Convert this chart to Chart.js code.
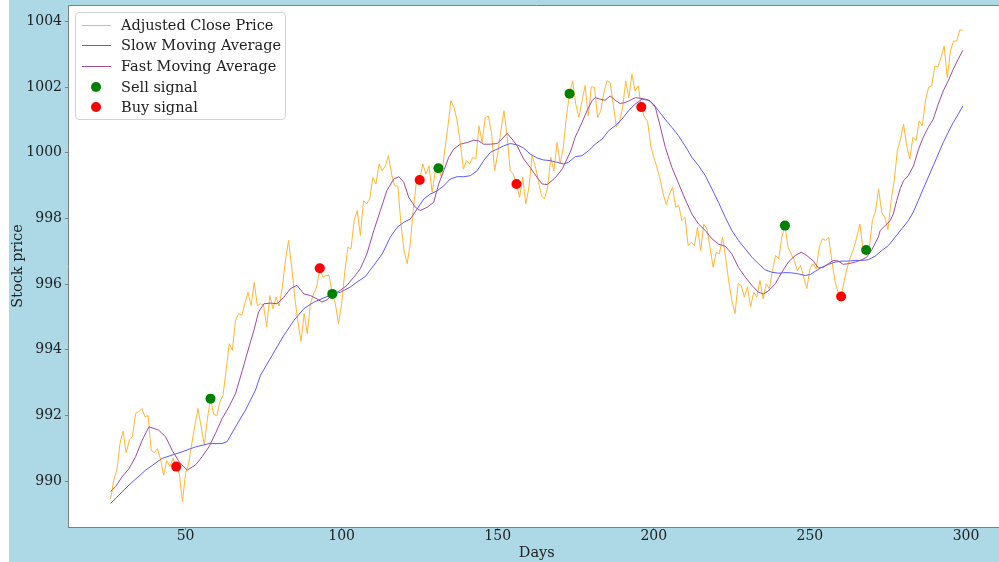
<!DOCTYPE html>
<html>
<head>
<meta charset="utf-8">
<script src="https://cdn.jsdelivr.net/npm/chart.js@4/dist/chart.umd.min.js"></script>
<style>
  html, body { margin:0; padding:0; background:#ffffff; overflow:hidden; width:999px; height:562px; }
  #bg { position:absolute; left:9px; top:0; width:990px; height:562px; background:#add8e6; }
  #wrap { position:absolute; left:0; top:0; width:1012px; height:562px; }
  #legend { position:absolute; left:75px; top:12px; width:211px; height:108px; border:1px solid #d4d4d4;
            border-radius:4px; background:rgba(255,255,255,0.85); box-sizing:border-box; }
  .lrow { position:absolute; left:0; height:20px; width:100%; }
  .ltext { position:absolute; left:45px; top:0; line-height:20px; font-family:'DejaVu Serif'; font-size:14.5px; color:#222; white-space:nowrap; }
  .lline { position:absolute; left:6px; top:10px; width:29px; height:1px; }
  .ldot { position:absolute; left:15px; top:5px; width:10px; height:10px; border-radius:50%; }
</style>
</head>
<body>
<div id="bg"></div>
<div id="wrap"><canvas id="c" width="1012" height="562"></canvas></div>
<div id="legend"></div>
<script>
// ---------- data ----------
const firstDay = 26;
const adjClose = [
 989.47,990.03,990.33,991.14,991.52,990.86,991.25,991.35,992.06,992.11,
 992.21,991.96,991.99,990.94,990.86,990.99,990.66,990.18,990.62,990.44,
 990.69,990.44,990.23,989.37,990.23,990.54,991.14,991.70,992.21,991.65,
 991.09,991.90,992.51,992.04,991.99,992.41,992.61,993.37,994.18,993.98,
 994.89,995.10,995.05,995.40,995.75,995.35,996.05,995.34,995.40,995.35,
 994.69,995.65,995.25,995.60,995.33,995.90,996.72,997.33,996.52,995.60,
 994.84,994.25,995.10,994.49,995.40,995.70,995.91,996.48,996.21,996.26,
 996.26,995.70,995.40,994.79,995.40,996.36,997.12,997.07,997.93,998.24,
 997.48,998.54,998.44,998.59,999.25,999.05,999.66,999.45,999.60,999.91,
 999.35,998.99,998.99,997.83,997.02,996.62,997.25,998.30,999.15,999.17,
 999.66,999.35,999.60,998.79,999.45,999.53,999.25,1000.06,1000.77,1001.58,
 1001.38,1000.97,1000.31,999.50,999.76,999.66,999.86,999.81,1000.82,1000.31,
 1001.07,1001.12,1000.62,999.45,999.96,1000.67,1001.28,1000.52,999.45,999.35,
 999.05,998.64,999.25,998.44,998.95,999.91,999.60,999.15,998.69,998.59,
 998.95,999.86,999.45,1000.31,999.66,1000.16,1001.10,1001.80,1002.19,1001.48,
 1001.07,1001.58,1002.04,1001.12,1002.01,1001.99,1001.07,1001.28,1001.83,1002.19,
 1002.14,1001.48,1000.79,1000.92,1001.38,1002.19,1001.68,1002.39,1001.88,1002.04,
 1001.39,1001.07,1000.97,1000.21,999.86,999.55,999.20,998.74,998.42,998.74,
 998.95,998.34,998.39,997.93,998.03,997.17,997.27,997.17,997.73,997.02,
 997.83,997.68,997.12,996.51,996.97,996.92,997.43,996.82,996.08,995.50,
 995.10,996.01,995.96,995.60,995.91,995.30,995.75,995.60,996.11,995.55,
 996.01,995.86,996.41,996.87,996.77,997.43,997.78,997.12,996.92,996.72,
 996.41,996.57,996.21,995.86,996.46,996.62,996.46,997.12,997.38,997.33,
 997.43,996.72,996.11,995.75,995.62,996.11,996.52,996.82,997.07,997.43,
 997.83,997.07,997.04,997.07,997.93,998.22,998.90,998.18,998.03,997.66,
 998.54,999.15,1000.06,1000.41,1000.87,1000.21,999.81,1000.47,1000.37,1000.97,
 1000.82,1001.58,1001.99,1002.04,1002.64,1002.61,1002.90,1003.25,1002.29,1003.10,
 1003.40,1003.40,1003.74,1003.73
];

const slowDays = [26,31.9,37.2,42.5,48.9,53.2,57.5,61.7,63.3,66,69.2,72.4,74,78.8,81.5,84.7,87.9,91.1,94.3,97,
 99.6,102.8,104.9,107.6,110.3,113,115.6,117.8,119.9,122,124.2,126.3,128.4,130.6,132.7,134.8,137,139.1,141.2,143.4,
 145.5,147.6,149.8,151.9,154,156.2,158.3,160.4,162.6,164.7,166.8,168.9,171.1,172.7,174.8,177,179.1,181.2,183.4,185.5,
 187.6,189.8,191.9,194,196.2,198.3,199.9,201.5,203.6,205.8,207.9,210,212.2,214.3,216.5,218.6,220.7,222.9,225,227.1,
 229.3,231.4,233.5,235.7,237.8,240,242.1,244.2,246.3,248.5,250.1,251.7,253.8,256,258.1,260.2,262.3,264.5,266.6,268.7,
 270.9,273,275.1,277.3,279.4,281.5,283.1,284.7,286.3,287.9,289.5,291.1,292.7,294.3,295.9,297.5,299];
const slowMA = [989.32,989.88,990.33,990.69,990.89,991.04,991.14,991.14,991.20,991.65,992.16,992.77,993.22,994.00,994.44,994.89,995.25,995.45,995.58,995.68,
 995.75,995.91,996.06,996.23,996.57,996.92,997.43,997.73,997.88,997.98,998.29,998.59,998.74,998.84,998.99,999.20,999.27,999.27,999.30,999.45,
 999.76,1000.01,1000.11,1000.21,1000.28,1000.24,1000.14,999.96,999.84,999.78,999.76,999.71,999.66,999.71,999.88,999.91,1000.06,1000.26,1000.41,1000.67,
 1000.82,1001.02,1001.28,1001.48,1001.63,1001.60,1001.48,1001.28,1001.02,1000.77,1000.52,1000.21,999.86,999.61,999.30,998.90,998.49,998.03,997.63,997.33,
 997.07,996.82,996.62,996.43,996.36,996.33,996.35,996.34,996.31,996.26,996.29,996.39,996.51,996.60,996.67,996.70,996.70,996.72,996.72,996.74,
 996.85,997.02,997.17,997.43,997.68,997.93,998.19,998.54,998.90,999.25,999.60,999.96,1000.31,1000.62,1000.92,1001.17,1001.43];

const fastDays = [26,27.6,29.7,31.9,34,36.1,38.3,39.9,41.4,43.6,45.7,47.9,50.5,53.2,55.3,57.5,59.6,61.7,63.9,66,
 68.2,70.3,71.9,73.4,75.1,77.3,79.3,81.5,83.6,85.7,87.9,90,92.1,93.7,95.3,97.5,99.6,101.7,103.9,106,
 108.1,110.3,112.4,114.5,116.7,118.3,119.9,121.5,123.6,125.2,127.4,129.5,131.1,132.7,134.3,135.9,138,140.2,142.3,143.9,
 145.5,147.6,149.8,151.4,153,154.6,156.2,158.3,160.4,162.6,164.2,165.8,167.4,169,170.6,172.2,173.5,174.8,177,178.6,
 180.2,181.2,182.8,184.4,186,187.6,189.2,190.8,192.5,194.1,195.6,197.3,198.8,200.5,202,203.7,205.8,208,210,212.2,
 214.3,216.5,218.6,220.7,222.9,225,227.1,229.3,231.4,233.5,235.1,236.7,238.9,241,243.1,245.3,247.2,249,251.1,252.7,
 254.3,255.9,257.5,259.1,260.7,262.3,264.5,266.6,268.2,269.8,271.9,272.5,274.1,275.7,276.7,277.8,278.9,280,281.5,283.2,
 284.8,286.3,287.9,289.5,291.1,292.7,294.3,295.9,297.5,299];
const fastMA = [989.68,989.83,990.13,990.38,990.74,991.24,991.65,991.60,991.55,991.35,990.94,990.59,990.33,990.49,990.74,991.04,991.45,991.90,992.26,992.66,
 993.37,994.08,994.59,995.15,995.40,995.42,995.40,995.60,995.86,995.96,995.70,995.65,995.55,995.45,995.52,995.70,995.81,995.96,996.21,996.47,
 996.92,997.63,998.24,998.85,999.20,999.27,999.10,998.64,998.34,998.24,998.34,998.49,999.05,999.45,999.86,1000.11,1000.26,1000.31,1000.38,1000.36,
 1000.26,1000.26,1000.28,1000.42,1000.59,1000.42,1000.21,999.81,999.55,999.25,999.05,999.03,999.15,999.30,999.50,999.81,1000.08,1000.47,1000.92,1001.28,
 1001.58,1001.68,1001.63,1001.60,1001.73,1001.60,1001.50,1001.53,1001.60,1001.68,1001.66,1001.63,1001.58,1001.38,1000.82,1000.16,999.55,999.05,998.59,998.13,
 997.83,997.63,997.38,997.22,997.15,996.92,996.51,996.21,995.96,995.75,995.70,995.79,996.01,996.36,996.67,996.87,996.97,996.87,996.70,996.49,
 996.51,996.62,996.72,996.70,996.60,996.62,996.67,996.74,996.82,997.04,997.43,997.63,997.78,997.93,998.13,998.54,998.90,999.15,999.30,999.60,
 1000.11,1000.47,1000.77,1001.02,1001.48,1001.88,1002.19,1002.54,1002.85,1003.12];

const sellDays = [58, 97, 131, 173, 242, 268];
const sellVals = [992.51, 995.70, 999.53, 1001.80, 997.78, 997.04];
const buyDays  = [47, 93, 125, 156, 196, 260];
const buyVals  = [990.44, 996.48, 999.17, 999.05, 1001.39, 995.62];

const xTicks = [50, 100, 150, 200, 250, 300];
const yTicks = [990, 992, 994, 996, 998, 1000, 1002, 1004];

const seriesNames = ['Adjusted Close Price', 'Slow Moving Average', 'Fast Moving Average', 'Sell signal', 'Buy signal'];
const seriesColors = ['#ffb733', '#5c5cff', '#a04ca0', '#008000', '#ff0000'];

// ---------- build ----------
const pts = (xs, ys) => ys.map((v, i) => ({x: xs[i], y: v}));
const priceDays = adjClose.map((_, i) => firstDay + i);

const areaPlugin = {
  id: 'area',
  beforeDraw(chart) {
    const a = chart.chartArea, ctx = chart.ctx;
    ctx.save(); ctx.fillStyle = '#ffffff';
    ctx.fillRect(a.left, a.top, a.right - a.left, a.bottom - a.top);
    ctx.restore();
  },
  afterDraw(chart) {
    const a = chart.chartArea, ctx = chart.ctx;
    ctx.save(); ctx.strokeStyle = '#808080'; ctx.lineWidth = 1;
    ctx.beginPath(); ctx.moveTo(a.left, a.top + 0.5); ctx.lineTo(a.right, a.top + 0.5);
    ctx.moveTo(a.right - 0.5, a.top); ctx.lineTo(a.right - 0.5, a.bottom); ctx.stroke();
    ctx.restore();
  }
};

Chart.defaults.font.family = 'DejaVu Serif';
Chart.defaults.color = '#222';

new Chart(document.getElementById('c'), {
  type: 'line',
  data: {
    datasets: [
      {type:'scatter', label: seriesNames[3], data: pts(sellDays, sellVals), backgroundColor: seriesColors[3], borderWidth: 0, pointRadius: 5},
      {type:'scatter', label: seriesNames[4], data: pts(buyDays, buyVals), backgroundColor: seriesColors[4], borderWidth: 0, pointRadius: 5},
      {label: seriesNames[2], data: pts(fastDays, fastMA), borderColor: seriesColors[2], borderWidth: 1, pointRadius: 0, tension: 0},
      {label: seriesNames[1], data: pts(slowDays, slowMA), borderColor: seriesColors[1], borderWidth: 1, pointRadius: 0, tension: 0},
      {label: seriesNames[0], data: pts(priceDays, adjClose), borderColor: seriesColors[0], borderWidth: 1, pointRadius: 0, tension: 0}
    ]
  },
  options: {
    responsive: false, animation: false, events: [],
    layout: { padding: { top: 4.5, right: 6.5, bottom: 0, left: 0 } },
    plugins: { legend: { display: false }, tooltip: { enabled: false } },
    scales: {
      x: {
        type: 'linear', min: 12.35, max: 312.65,
        afterBuildTicks: s => { s.ticks = xTicks.map(v => ({value: v})); },
        afterFit: s => { s.height = 35; s.paddingLeft = 0; s.paddingRight = 0; },
        grid: { drawOnChartArea: false, drawTicks: true, tickLength: 3, color: '#808080' },
        border: { color: '#808080', width: 1 },
        ticks: { font: { size: 14 }, color: '#222', padding: -2, maxRotation: 0, callback: v => String(v) },
        title: { display: true, text: 'Days', font: { size: 14.5 }, color: '#222', padding: { top: 0, bottom: 0 } }
      },
      y: {
        type: 'linear', min: 988.6, max: 1004.5,
        afterBuildTicks: s => { s.ticks = yTicks.map(v => ({value: v})); },
        afterFit: s => { s.width = 68; s.paddingTop = 0; s.paddingBottom = 0; },
        grid: { drawOnChartArea: false, drawTicks: true, tickLength: 3, color: '#808080' },
        border: { color: '#808080', width: 1 },
        ticks: { font: { size: 14 }, color: '#222', padding: 3, callback: v => String(v) },
        title: { display: true, text: 'Stock price', font: { size: 14.5 }, color: '#222', padding: { top: 10, bottom: 0 } }
      }
    }
  },
  plugins: [areaPlugin]
});

// ---------- legend (HTML text) ----------
const leg = document.getElementById('legend');
const kinds = ['line', 'line', 'line', 'dot', 'dot'];
seriesNames.forEach((name, i) => {
  const row = document.createElement('div');
  row.className = 'lrow';
  row.style.top = (1.5 + i * 20.7) + 'px';
  const mark = document.createElement('div');
  if (kinds[i] === 'line') { mark.className = 'lline'; mark.style.background = seriesColors[i]; }
  else { mark.className = 'ldot'; mark.style.background = seriesColors[i]; }
  const t = document.createElement('div');
  t.className = 'ltext'; t.textContent = name;
  row.appendChild(mark); row.appendChild(t); leg.appendChild(row);
});
</script>
</body>
</html>
